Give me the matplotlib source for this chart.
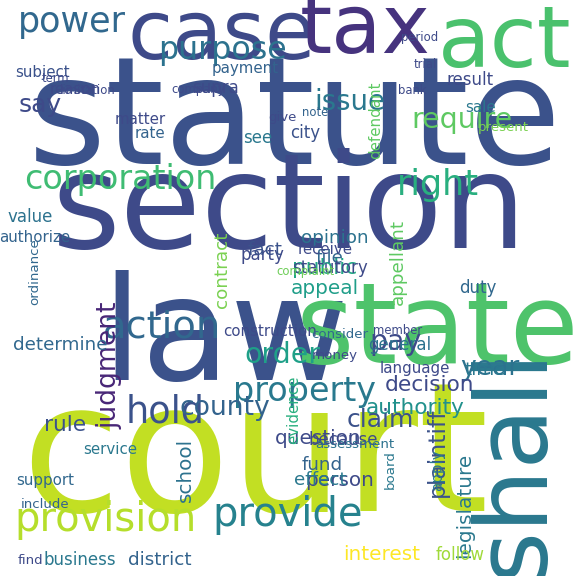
import matplotlib
matplotlib.use("Agg")
import matplotlib.pyplot as plt

# word cloud terms and their layout in the 576x576 reference (pixels, top-left origin)
words = ["statute", "section", "court", "law", "state", "shall", "case", "tax", "act",
         "power", "purpose", "say", "issue", "require", "corporation", "right",
         "action", "pay", "year", "order", "property", "judgment", "hold", "county",
         "provision", "provide", "plaintiff", "legislature", "authority", "question",
         "claim", "decision", "general", "time", "determine", "public", "appeal",
         "party", "contract", "fact", "file", "opinion", "statutory", "duty", "supra",
         "payment", "subject", "reason", "matter", "rate", "see", "city", "give",
         "note", "defendant", "result", "sale", "present", "value", "authorize",
         "receive", "evidence", "person", "fund", "effect", "rule", "school",
         "business", "district", "interest", "follow", "find", "include", "support",
         "service", "language", "apply", "construction", "consider", "money",
         "because", "board", "appellant", "term", "limitation", "company", "ordinance",
         "complaint", "assessment", "period", "trial", "bank", "member"]
xs = [295, 290, 255, 225, 438, 515, 222, 365, 505,
      72, 222, 40, 350, 462, 120, 438,
      162, 395, 490, 282, 305, 110, 165, 225,
      105, 288, 437, 465, 415, 318,
      380, 430, 400, 485, 60, 325, 325,
      262, 222, 265, 330, 335, 330, 478, 215,
      245, 42, 75, 140, 150, 258, 305, 282,
      315, 376, 470, 480, 503, 30, 35,
      325, 294, 340, 322, 320, 65, 185,
      80, 160, 382, 460, 30, 45, 45,
      110, 415, 438, 270, 340, 335,
      343, 390, 398, 55, 88, 198, 35,
      305, 355, 420, 425, 412, 398]
ys = [122, 212, 462, 340, 332, 462, 36, 30, 44,
      22, 50, 105, 102, 120, 180, 185,
      328, 342, 368, 355, 392, 365, 412, 408,
      520, 515, 452, 505, 408, 438,
      420, 385, 345, 370, 345, 268, 288,
      255, 270, 250, 258, 238, 268, 288, 88,
      68, 72, 90, 120, 133, 138, 133, 118,
      112, 120, 80, 108, 128, 217, 237,
      250, 410, 480, 465, 480, 425, 470,
      560, 560, 555, 555, 560, 505, 480,
      450, 368, 470, 332, 335, 355,
      440, 470, 262, 78, 90, 90, 272,
      272, 445, 38, 65, 90, 330]
sizes = [150, 132, 180, 145, 112, 100, 82, 82, 86,
         42, 38, 30, 33, 34, 40, 42,
         46, 34, 32, 34, 40, 32, 44, 32,
         48, 48, 28, 24, 26, 24,
         30, 26, 20, 22, 22, 26, 24,
         20, 22, 22, 22, 22, 20, 20, 20,
         18, 18, 18, 18, 18, 20, 20, 16,
         14, 18, 20, 18, 16, 20, 18,
         18, 18, 24, 22, 22, 26, 24,
         20, 22, 24, 20, 16, 16, 18,
         18, 18, 18, 18, 16, 16,
         20, 16, 22, 14, 14, 14, 16,
         14, 16, 14, 14, 14, 14]
rots = [0, 0, 0, 0, 0, 90, 0, 0, 0,
        0, 0, 0, 0, 0, 0, 0,
        0, 0, 0, 0, 0, 90, 0, 0,
        0, 0, 90, 90, 0, 0,
        0, 0, 0, 0, 0, 0, 0,
        0, 90, 0, 0, 0, 0, 0, 0,
        0, 0, 0, 0, 0, 0, 0, 0,
        0, 90, 0, 0, 0, 0, 0,
        0, 90, 0, 0, 0, 0, 90,
        0, 0, 0, 0, 0, 0, 0,
        0, 0, 90, 0, 0, 0,
        0, 90, 90, 0, 0, 0, 90,
        0, 0, 0, 0, 0, 0]
colors = ["#3b528b", "#3e4a89", "#c2df23", "#3b528b", "#4ec36b", "#2a788e", "#3e4a89", "#46337e", "#4ac16d",
          "#31688e", "#2c728e", "#3e4a89", "#2a788e", "#5ec962", "#3fbc73", "#29af7f",
          "#31688e", "#3e4a89", "#2c728e", "#1fa088", "#29798e", "#482677", "#3b528b", "#33638d",
          "#b5de2b", "#26828e", "#3b528b", "#2a788e", "#21918c", "#3e4a89",
          "#3b528b", "#3e4a89", "#2c728e", "#2a788e", "#31688e", "#22a884", "#1f9e89",
          "#3e4a89", "#7ad151", "#3b528b", "#31688e", "#2c728e", "#3e4a89", "#31688e", "#3e4a89",
          "#33638d", "#3b528b", "#3e4a89", "#3e4a89", "#33638d", "#2a788e", "#3b528b", "#3e4a89",
          "#33638d", "#5ec962", "#3e4a89", "#2a788e", "#7ad151", "#2c728e", "#33638d",
          "#3e4a89", "#29af7f", "#3e4a89", "#33638d", "#2a788e", "#3b528b", "#2c728e",
          "#2a788e", "#33638d", "#fde725", "#a0da39", "#3e4a89", "#33638d", "#31688e",
          "#2a788e", "#3e4a89", "#2a788e", "#3e4a89", "#31688e", "#3e4a89",
          "#3e4a89", "#2a788e", "#5ec962", "#3e4a89", "#3e4a89", "#3e4a89", "#31688e",
          "#6ece58", "#2c728e", "#3e4a89", "#3e4a89", "#3e4a89", "#3e4a89"]

fig = plt.figure(figsize=(5.76, 5.76), dpi=100)
ax = fig.add_axes([0, 0, 1, 1])
ax.set_xlim(0, 576)
ax.set_ylim(576, 0)
ax.axis("off")

for w, x, y, s, r, c in zip(words, xs, ys, sizes, rots, colors):
    # small words render a bit narrower in the reference font
    scale = 0.72 if s >= 80 else 0.6
    ax.text(x, y, w, fontsize=s * scale, rotation=r, color=c,
            ha="center", va="center", family="DejaVu Sans Condensed"
            if s < 80 else "DejaVu Sans")

fig.savefig("out.png", dpi=100, facecolor="white")
